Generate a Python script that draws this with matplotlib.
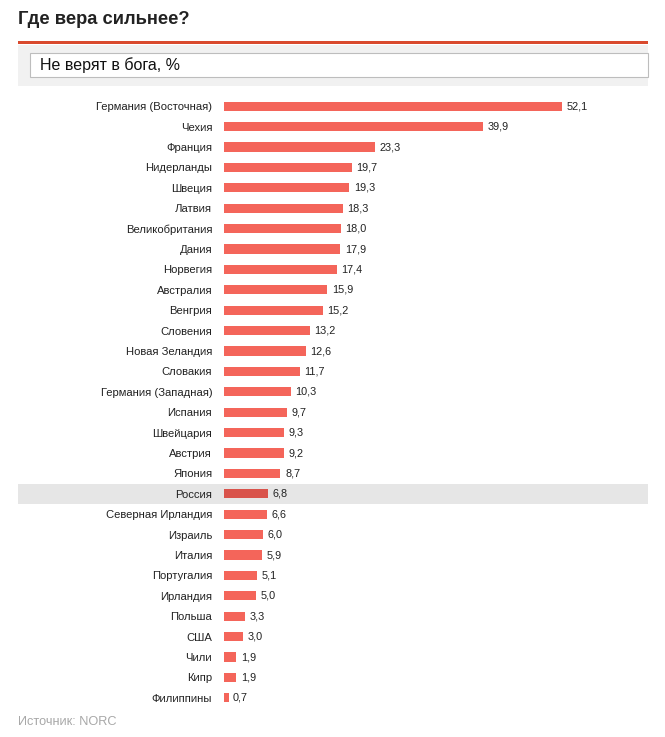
import matplotlib
matplotlib.use('Agg')
import matplotlib.pyplot as plt
import matplotlib.transforms as mtransforms
from matplotlib.patches import Rectangle

plt.rcParams['font.family'] = ['Liberation Sans', 'DejaVu Sans']

# data
countries = ['Германия (Восточная)', 'Чехия', 'Франция', 'Нидерланды', 'Швеция',
             'Латвия', 'Великобритания', 'Дания', 'Норвегия', 'Австралия',
             'Венгрия', 'Словения', 'Новая Зеландия', 'Словакия', 'Германия (Западная)',
             'Испания', 'Швейцария', 'Австрия', 'Япония', 'Россия',
             'Северная Ирландия', 'Израиль', 'Италия', 'Португалия', 'Ирландия',
             'Польша', 'США', 'Чили', 'Кипр', 'Филиппины']
values = [52.1, 39.9, 23.3, 19.7, 19.3, 18.3, 18.0, 17.9, 17.4, 15.9,
          15.2, 13.2, 12.6, 11.7, 10.3, 9.7, 9.3, 9.2, 8.7, 6.8,
          6.6, 6.0, 5.9, 5.1, 5.0, 3.3, 3.0, 1.9, 1.9, 0.7]
highlight = 'Россия'

W, H = 665, 737
fig = plt.figure(figsize=(W / 100, H / 100), dpi=100)
fig.patch.set_facecolor('white')

# header
fig.text(18 / W, 1 - 20 / H, 'Где вера сильнее?', fontsize=13.2, fontweight='bold',
         color='#222222', va='center', ha='left')
fig.add_artist(Rectangle((18 / W, 1 - 44 / H), (648 - 18) / W, 3 / H,
                         transform=fig.transFigure, color='#d94a2e', lw=0))
fig.add_artist(Rectangle((18 / W, 1 - 86 / H), (648 - 18) / W, 41 / H,
                         transform=fig.transFigure, color='#f1f1f1', lw=0))
fig.add_artist(Rectangle((30 / W, 1 - 77 / H), (648 - 30) / W, 24 / H,
                         transform=fig.transFigure, facecolor='white',
                         edgecolor='#bdbdbd', lw=0.8))
fig.text(40 / W, 1 - 65 / H, 'Не верят в бога, %', fontsize=11.5, color='#111111',
         va='center', ha='left')

# bars
ax = fig.add_axes([224 / W, 1 - 708 / H, (648 - 224) / W, (708 - 96) / H])
pos = list(range(len(values)))
colors = ['#d9534b' if c == highlight else '#f4655a' for c in countries]
ax.barh(pos, values, height=0.45, color=colors, zorder=2)

# highlight band across the whole width
trans = mtransforms.blended_transform_factory(fig.transFigure, ax.transData)
hi = countries.index(highlight)
ax.add_patch(Rectangle((18 / W, hi - 0.5), (648 - 18) / W, 1.0, transform=trans,
                       color='#e6e6e6', lw=0, zorder=0, clip_on=False))

for p, v in zip(pos, values):
    ax.text(v + 0.7, p, ('%.1f' % v).replace('.', ','), va='center', ha='left',
            fontsize=7.8, color='#222222')

ax.set_xlim(0, 65.3)
ax.set_ylim(len(values) - 0.5, -0.5)
ax.set_yticks(pos)
ax.set_yticklabels(countries, fontsize=8.1, color='#222222')
ax.tick_params(axis='y', length=0, pad=8.5)
ax.set_xticks([])
for s in ax.spines.values():
    s.set_visible(False)
ax.patch.set_alpha(0)

fig.text(18 / W, 1 - 722 / H, 'Источник: NORC', fontsize=9.2, color='#a8a8a8',
         va='center', ha='left')

fig.savefig('out.png', dpi=100)
